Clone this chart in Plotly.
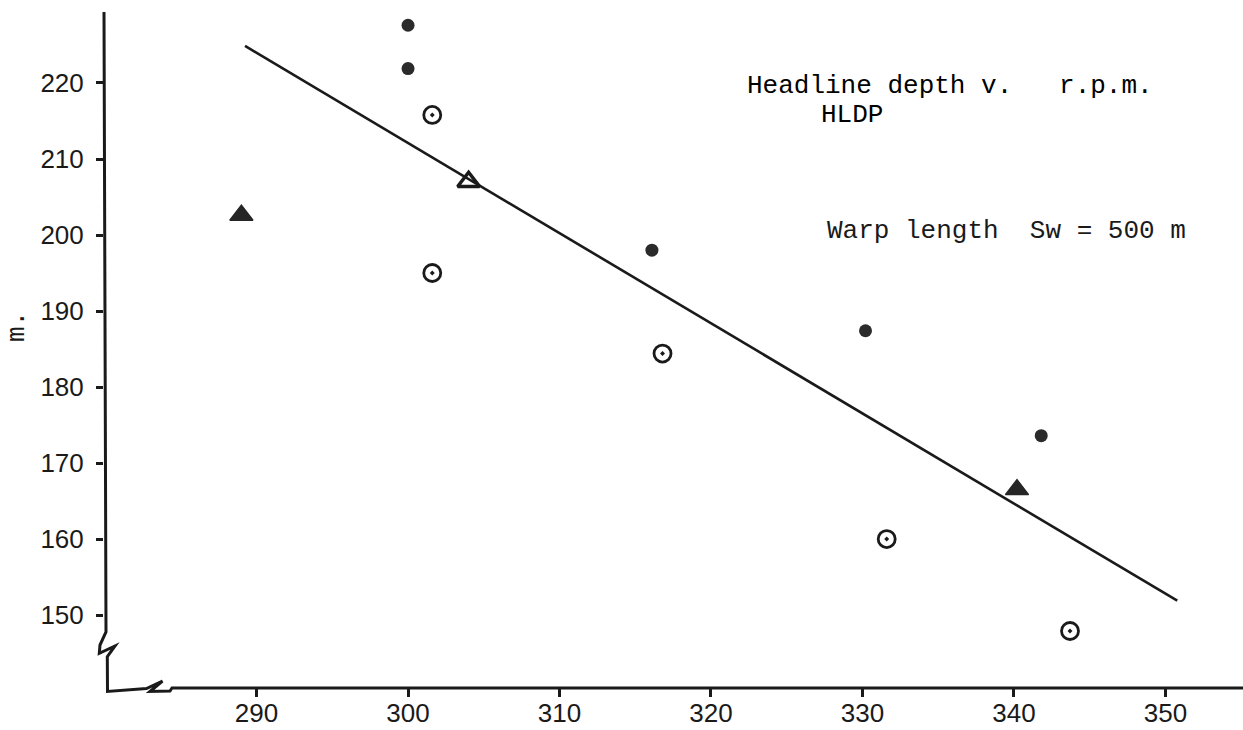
import plotly.graph_objects as go

# ---------------- data ----------------
rpm_filled = [300.0, 300.0, 316.1, 330.2, 341.8]
depth_filled = [227.6, 221.9, 198.0, 187.4, 173.6]

rpm_circle = [301.6, 301.6, 316.8, 331.6, 343.7]
depth_circle = [215.8, 195.0, 184.4, 160.0, 147.9]

rpm_tri = [289.0, 340.2]
depth_tri = [202.6, 166.5]

rpm_open_tri = [304.0]
depth_open_tri = [207.0]

fit_rpm = [289.24, 350.78]
fit_depth = [224.87, 151.88]

x_ticks = [290, 300, 310, 320, 330, 340, 350]
y_ticks = [150, 160, 170, 180, 190, 200, 210, 220]

title_line1 = "Headline depth v.   r.p.m."
title_line2 = "HLDP"
note_text = "Warp length  Sw = 500 m"
y_title = "m."

# ---------------- layout geometry ----------------
FIG_W, FIG_H = 1243, 730
L, T = 104, 12
W, H = FIG_W - L, 676
X0, X1 = 279.93, 355.12
Y0, Y1 = 140.4, 229.34


def px2x(px):
    return X0 + (px - L) / W * (X1 - X0)


def py2y(py):
    return Y1 - (py - T) / H * (Y1 - Y0)


def paper_path(points):
    parts = []
    for i, (px, py) in enumerate(points):
        xp = (px - L) / W
        yp = 1 - (py - T) / H
        parts.append(("M" if i == 0 else "L") + f"{xp:.5f},{yp:.5f}")
    return " ".join(parts)


INK = "#1a1a1a"
MONO = "Courier New, Nimbus Mono PS, Liberation Mono, monospace"
TICKFONT = dict(family="Liberation Sans, Arial, sans-serif", size=26, color=INK)

fig = go.Figure()

fig.add_trace(go.Scatter(
    x=fit_rpm, y=fit_depth, mode="lines",
    line=dict(color=INK, width=2.6), hoverinfo="skip", showlegend=False))

fig.add_trace(go.Scatter(
    x=rpm_filled, y=depth_filled, mode="markers",
    marker=dict(symbol="circle", size=13, color="#2b2b2b",
                line=dict(width=0)), showlegend=False))

fig.add_trace(go.Scatter(
    x=rpm_circle, y=depth_circle, mode="markers",
    marker=dict(symbol="circle-open-dot", size=17, color=INK,
                line=dict(width=2.8, color=INK)), showlegend=False))

fig.add_trace(go.Scatter(
    x=rpm_tri, y=depth_tri, mode="markers",
    marker=dict(symbol="triangle-up", size=20, color="#262626",
                line=dict(width=1.5, color="#262626")), showlegend=False))

fig.add_trace(go.Scatter(
    x=rpm_open_tri, y=depth_open_tri, mode="markers",
    marker=dict(symbol="triangle-up-open", size=19, color=INK,
                line=dict(width=3.5, color=INK)), showlegend=False))

# hand-drawn axes with break marks
y_axis_pts = [(104, 12), (106, 632), (100, 645), (99.3, 653.3), (115, 646),
              (107.3, 656.7), (107.5, 691.5), (146.5, 688.5), (162.5, 681),
              (150, 691.5), (170, 691), (172, 688), (FIG_W, 688)]

shapes = [dict(type="path", xref="paper", yref="paper",
               path=paper_path(y_axis_pts),
               line=dict(color=INK, width=3), layer="above")]

annotations = [
    dict(x=px2x(745), y=py2y(86), xref="x", yref="y", text=title_line1,
         showarrow=False, xanchor="left", yanchor="middle",
         font=dict(family=MONO, size=26, color="#000000")),
    dict(x=px2x(819), y=py2y(115), xref="x", yref="y", text=title_line2,
         showarrow=False, xanchor="left", yanchor="middle",
         font=dict(family=MONO, size=26, color="#000000")),
    dict(x=px2x(825), y=py2y(231), xref="x", yref="y", text=note_text,
         showarrow=False, xanchor="left", yanchor="middle",
         font=dict(family=MONO, size=26, color=INK)),
    dict(x=(17 - L) / W, y=py2y(326), xref="paper", yref="y", text=y_title,
         showarrow=False, xanchor="center", yanchor="middle", textangle=-90,
         font=dict(family=MONO, size=26, color=INK)),
]

fig.update_layout(
    width=FIG_W, height=FIG_H,
    margin=dict(l=L, r=0, t=T, b=FIG_H - T - H, pad=0),
    paper_bgcolor="white", plot_bgcolor="white",
    template="none",
    showlegend=False,
    shapes=shapes,
    annotations=annotations,
    xaxis=dict(range=[X0, X1], tickvals=x_ticks, ticks="outside", ticklen=8,
               tickwidth=2.5, tickcolor=INK, showline=False, showgrid=False,
               zeroline=False, tickfont=TICKFONT, automargin=False,
               ticklabelstandoff=-6),
    yaxis=dict(range=[Y0, Y1], tickvals=y_ticks, ticks="outside", ticklen=7,
               tickwidth=2.5, tickcolor=INK, showline=False, showgrid=False,
               zeroline=False, tickfont=TICKFONT, automargin=False,
               ticklabelstandoff=7),
)

fig.write_html(
    "out.html",
    config={"displayModeBar": False},
    post_script="document.body.style.margin='0';document.body.style.overflow='hidden';",
)
